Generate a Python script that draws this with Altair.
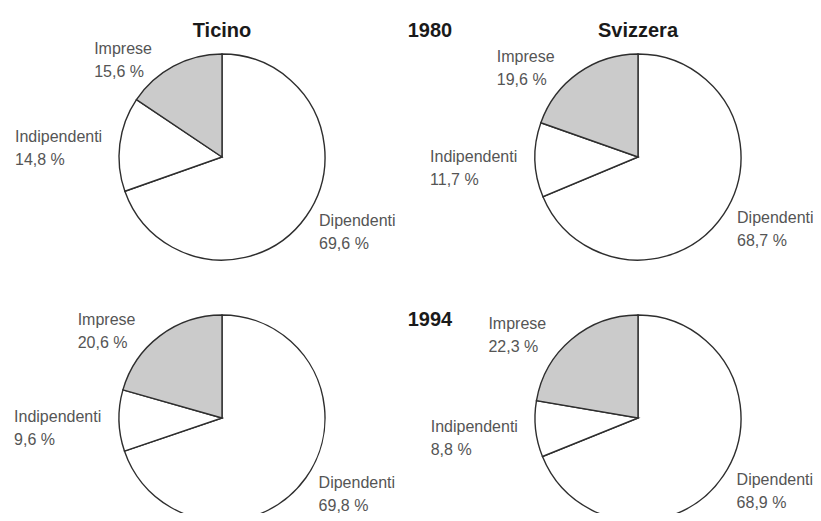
import altair as alt
import pandas as pd

# ---- data ----
regions = ["Ticino", "Svizzera"]
years = ["1980", "1994"]
categories = ["Dipendenti", "Indipendenti", "Imprese"]
ticino_1980 = [69.6, 14.8, 15.6]
svizzera_1980 = [68.7, 11.7, 19.6]
ticino_1994 = [69.8, 9.6, 20.6]
svizzera_1994 = [68.9, 8.8, 22.3]
fills = ["#ffffff", "#ffffff", "#cbcbcb"]

# grid layout: column index for regions, row index for years
col_of = {r: i for i, r in enumerate(regions)}
row_of = {y: i for i, y in enumerate(years)}

series = [
    ("Ticino", "1980", ticino_1980),
    ("Svizzera", "1980", svizzera_1980),
    ("Ticino", "1994", ticino_1994),
    ("Svizzera", "1994", svizzera_1994),
]

rows = []
for region, year, vals in series:
    cum = 0.0
    for k, (cat, v) in enumerate(zip(categories, vals)):
        rows.append(dict(
            region=region, year=year, col=col_of[region], row=row_of[year],
            cat=cat, order=k, value=v, start=cum, end=cum + v, mid=cum + v / 2,
            label=cat + "\n" + f"{v:.1f}".replace(".", ",") + " %",
        ))
        cum += v
df = pd.DataFrame(rows)

titles = pd.DataFrame({
    "text": regions + [years[0]],
    "col": [col_of[r] for r in regions] + [0.5],
    "row": [0, 0, 0],
})
title_1994 = pd.DataFrame({"text": [years[1]], "col": [0.5], "row": [1]})

FONT = "Liberation Sans Narrow, Liberation Sans, Arial, sans-serif"

xs = alt.Scale(domain=[0, 1], range=[214, 630])
ys = alt.Scale(domain=[0, 1], range=[149, 410])
ts = alt.Scale(domain=[0, 100], range=[0, 6.283185307179586])

X = alt.X("col:Q", scale=xs, axis=None)
Y = alt.Y("row:Q", scale=ys, axis=None)

base = alt.Chart(df)

arcs = base.mark_arc(radius=103, stroke="#2e2e2e", strokeWidth=1.4).encode(
    x=X, y=Y,
    theta=alt.Theta("start:Q", scale=ts, stack=None),
    theta2="end:Q",
    fill=alt.Fill("cat:N", scale=alt.Scale(domain=categories, range=fills), legend=None),
)

def label_layer(cat, dx, dy):
    return base.transform_filter(alt.datum.cat == cat).mark_text(
        radius=125, align="left", baseline="middle", dx=dx, dy=dy,
        font=FONT, fontSize=16, lineHeight=23, color="#555555", lineBreak="\n",
    ).encode(
        x=X, y=Y,
        theta=alt.Theta("mid:Q", scale=ts, stack=None),
        text="label:N",
    )

lab_dip = label_layer("Dipendenti", -5, -8)
lab_ind = label_layer("Indipendenti", -83, -4)
lab_imp = label_layer("Imprese", -69, 2)

head = alt.Chart(titles).mark_text(
    font=FONT, fontSize=20, fontWeight="bold", color="#1a1a1a",
    baseline="alphabetic", dy=-120,
).encode(x=X, y=Y, text="text:N")

head94 = alt.Chart(title_1994).mark_text(
    font=FONT, fontSize=20, fontWeight="bold", color="#1a1a1a",
    baseline="alphabetic", dy=-92,
).encode(x=X, y=Y, text="text:N")

chart = alt.layer(arcs, lab_dip, lab_ind, lab_imp, head, head94).properties(
    width=805, height=505, padding=0,
    autosize=alt.AutoSizeParams(type="none"),
).configure_view(stroke=None)

chart.save("out.html", embed_options={"renderer": "svg", "actions": False})
